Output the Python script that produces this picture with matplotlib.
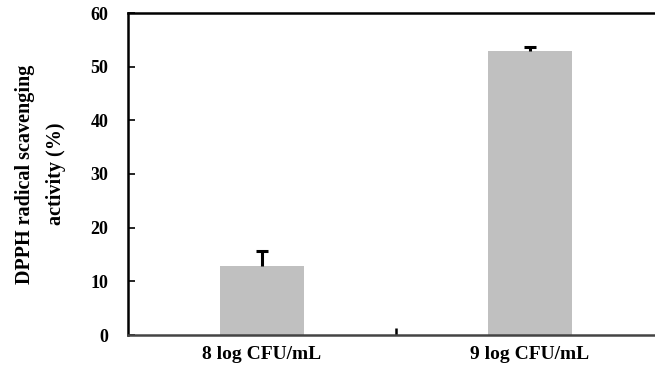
import matplotlib.pyplot as plt
from matplotlib.ticker import FixedLocator

categories = ['8 log CFU/mL', '9 log CFU/mL']
values = [12.8, 52.9]
errors = [2.8, 0.8]

plt.rcParams['font.family'] = ['Liberation Serif', 'DejaVu Serif']
plt.rcParams['font.weight'] = 'bold'

fig = plt.figure(figsize=(6.55, 3.68), dpi=100)
ax = fig.add_axes([128 / 655, 1 - 335 / 368, 536 / 655, 322 / 368])

x = list(range(len(categories)))
tops = [v + e for v, e in zip(values, errors)]
ax.bar(x, values, width=0.31, color='#c0c0c0', zorder=2)
ax.vlines(x, values, tops, color='black', linewidth=2.2, zorder=3)
ax.plot(x, tops, linestyle='none', marker='_', markersize=8,
        markeredgewidth=2.2, color='black', zorder=3)

ax.set_xlim(-0.5, 1.5)
ax.set_ylim(0, 60)
ax.set_yticks(range(0, 61, 10))
ax.set_xticks(x)
ax.set_xticklabels(categories, fontsize=14, fontweight='bold')
ax.xaxis.set_minor_locator(FixedLocator([0.5]))
ax.tick_params(axis='x', which='major', length=0, pad=8)
ax.tick_params(axis='x', which='minor', direction='in', length=5, width=1.8)
ax.tick_params(axis='y', direction='in', length=5, width=1.2, labelsize=13, pad=14)
for lab in ax.get_yticklabels():
    lab.set_fontweight('bold')

for side in ['left', 'top', 'bottom']:
    ax.spines[side].set_linewidth(1.8)
ax.spines['bottom'].set_color('#444444')
ax.spines['right'].set_visible(False)

ax.set_ylabel('DPPH radical scavenging\nactivity (%)', fontsize=14.5,
              fontweight='bold', linespacing=1.7, labelpad=18)

fig.savefig('out.png', dpi=100)
